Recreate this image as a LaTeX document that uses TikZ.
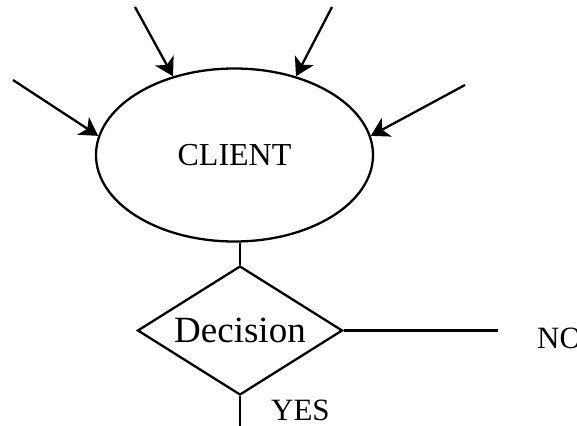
\documentclass[tikz,border=0pt]{standalone}
\usepackage{fontspec}
\setmainfont{Liberation Serif}
\usetikzlibrary{shapes.geometric,arrows.meta}
\begin{document}
\begin{tikzpicture}[x=1pt,y=-1pt,
  line width=2.3pt,
  arr/.style={-{Stealth[length=18pt,width=21pt,inset=5pt]}},
  clientbox/.style={draw,ellipse,minimum width=277pt,minimum height=173pt,inner sep=0pt,font=\fontsize{32}{38}\selectfont},
  decbox/.style={draw,diamond,aspect=1.59,minimum width=205pt,minimum height=129pt,inner sep=0pt,font=\fontsize{37}{42}\selectfont},
  lbl/.style={inner sep=0pt,anchor=base west,font=\fontsize{31}{36}\selectfont}]
\useasboundingbox (0,0) rectangle (577,425);
\node[clientbox] (client) at (234.5,155) {CLIENT};
\node[decbox] (dec) at (240,330.5) {Decision};
\coordinate (t1) at (135,7);
\coordinate (t2) at (332,7);
\coordinate (t3) at (13,80);
\coordinate (t4) at (465,85);
\coordinate (noend) at (498,330.5);
\coordinate (yesend) at (240,430);
\draw[arr] (t1) -- (client.128);
\draw[arr] (t2) -- (client.52);
\draw[arr] (t3) -- (client.172.5);
\draw[arr] (t4) -- (client.8.2);
\draw (dec.north) -- (dec.north |- client.south);
\draw (dec.east) -- (noend);
\draw (dec.south) -- (yesend);
\node[lbl] (no) at (536,348) {NO};
\node[lbl] (yes) at (270,420) {YES};
\end{tikzpicture}
\end{document}
